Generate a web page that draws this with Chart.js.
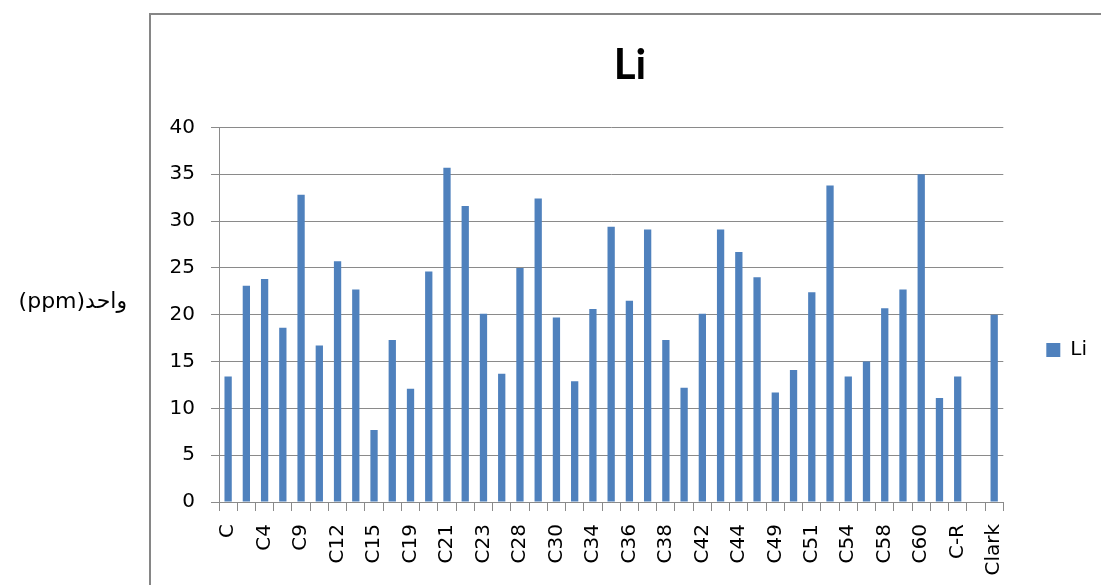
<!DOCTYPE html>
<html>
<head>
<meta charset="utf-8">
<script src="https://cdn.jsdelivr.net/npm/chart.js@4/dist/chart.umd.min.js"></script>
<style>
  html, body { margin: 0; padding: 0; overflow: hidden; background: #fff; }
  #wrap { position: absolute; left: 0; top: 0; width: 1123px; height: 686px; }
</style>
</head>
<body>
<div id="wrap"><canvas id="c" width="1123" height="686"></canvas></div>
<script>
// ---- data ----
const categories = [
  'C','C2','C4','C6','C9','C10','C12','C13','C15','C17','C19','C20','C21','C22','C23','C25',
  'C28','C29','C30','C32','C34','C35','C36','C37','C38','C40','C42','C43','C44','C46','C49',
  'C50','C51','C52','C54','C56','C58','C59','C60','C61','C-R','','Clark'
];
const liValues = [
  13.4, 23.1, 23.8, 18.6, 32.8, 16.7, 25.7, 22.7, 7.7, 17.3, 12.1, 24.6, 35.7, 31.6, 20.1, 13.7,
  25.0, 32.4, 19.7, 12.9, 20.6, 29.4, 21.5, 29.1, 17.3, 12.2, 20.1, 29.1, 26.7, 24.0, 11.7,
  14.1, 22.4, 33.8, 13.4, 15.0, 20.7, 22.7, 35.0, 11.1, 13.4, null, 20.0
];
const tickLabels = ['C','C4','C9','C12','C15','C19','C21','C23','C28','C30','C34','C36','C38',
  'C42','C44','C49','C51','C54','C58','C60','C-R','Clark'];
const seriesName = 'Li';
const chartTitle = 'Li';
const yAxisLabel = '(ppm)واحد';

const GRID = '#8a8a8a';
const BLUE = '#4f81bd';

const framePlugin = {
  id: 'frame',
  afterLayout(chart) {
    // nudge legend to the Excel position
    chart.legend.left -= 13;
    chart.legend.right -= 13;
  },
  beforeDraw(chart) {
    const ctx = chart.ctx;
    ctx.save();
    ctx.strokeStyle = '#868686';
    ctx.lineWidth = 2;
    ctx.beginPath();
    ctx.moveTo(150, chart.height);
    ctx.lineTo(150, 14);
    ctx.lineTo(chart.width, 14);
    ctx.stroke();
    ctx.restore();
  },
  afterDraw(chart) {
    const ctx = chart.ctx;
    ctx.save();
    ctx.font = '22px "DejaVu Sans"';
    ctx.fillStyle = '#000';
    ctx.textAlign = 'right';
    ctx.textBaseline = 'middle';
    ctx.direction = 'ltr';
    ctx.fillText(yAxisLabel, 127, 302);
    ctx.restore();
  }
};

Chart.defaults.font.family = '"DejaVu Sans"';
Chart.defaults.color = '#000';

new Chart(document.getElementById('c'), {
  type: 'bar',
  data: {
    labels: categories,
    datasets: [{
      label: seriesName,
      data: liValues,
      backgroundColor: BLUE,
      borderWidth: 0,
      categoryPercentage: 1.0,
      barPercentage: 0.4
    }]
  },
  options: {
    responsive: false,
    animation: false,
    layout: { padding: { left: 150, right: 13, top: 14, bottom: 0 } },
    plugins: {
      title: {
        display: true,
        text: chartTitle,
        color: '#000',
        font: { family: 'Lato', size: 42, weight: 'bold' },
        padding: { top: 26, bottom: 37 }
      },
      legend: {
        display: true,
        position: 'right',
        labels: {
          boxWidth: 14,
          boxHeight: 14,
          padding: 56,
          color: '#000',
          font: { size: 20 }
        }
      },
      tooltip: { enabled: false }
    },
    scales: {
      x: {
        grid: {
          offset: true,
          drawOnChartArea: false,
          drawTicks: true,
          tickLength: 9,
          color: GRID
        },
        border: { display: true, color: GRID },
        ticks: {
          autoSkip: false,
          minRotation: 90,
          maxRotation: 90,
          padding: 13,
          color: '#000',
          font: { size: 20 },
          callback: (v, i) => (i % 2 === 0 ? tickLabels[i / 2] : '')
        },
        afterFit(scale) { scale.height = 184; }
      },
      y: {
        min: 0,
        max: 40,
        ticks: { stepSize: 5, padding: 16, color: '#000', font: { size: 20 } },
        grid: { color: GRID, tickLength: 8 },
        border: { display: true, color: GRID },
        afterFit(scale) { scale.width = 69; }
      }
    }
  },
  plugins: [framePlugin]
});
</script>
</body>
</html>
